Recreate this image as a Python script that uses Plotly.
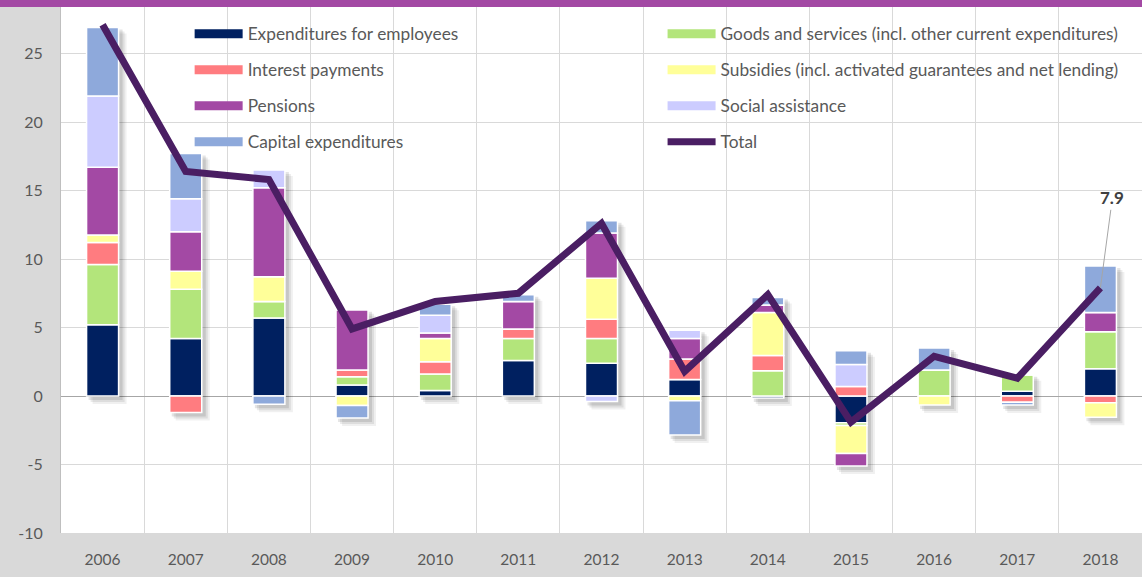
import plotly.graph_objects as go

years = ["2006", "2007", "2008", "2009", "2010", "2011", "2012",
         "2013", "2014", "2015", "2016", "2017", "2018"]

employees = [5.2, 4.2, 5.7, 0.8, 0.4, 2.6, 2.4, 1.2, -0.15, -1.95, 0.0, 0.35, 2.0]
goods     = [4.4, 3.6, 1.2, 0.6, 1.2, 1.6, 1.8, 0.0, 1.85, -0.2, 1.9, 1.2, 2.7]
interest  = [1.6, -1.2, 0.0, 0.5, 0.9, 0.7, 1.4, 1.5, 1.1, 0.7, 0.0, -0.45, -0.5]
subsidies = [0.55, 1.3, 1.8, -0.7, 1.7, 0.0, 3.0, -0.35, 3.15, -2.05, -0.65, 0.0, -1.05]
pensions  = [4.95, 2.9, 6.5, 4.4, 0.4, 2.0, 3.3, 1.5, 0.55, -0.9, 0.0, 0.0, 1.4]
social    = [5.2, 2.4, 1.3, 0.0, 1.3, 0.0, -0.4, 0.6, 0.0, 1.6, 0.0, 0.0, 0.0]
capital   = [5.0, 3.3, -0.6, -0.9, 0.8, 0.5, 0.9, -2.5, 0.55, 1.0, 1.6, -0.2, 3.4]
total     = [27.1, 16.4, 15.8, 4.9, 6.9, 7.5, 12.6, 1.8, 7.4, -1.9, 2.9, 1.3, 7.9]

ytick_vals = [-10, -5, 0, 5, 10, 15, 20, 25]
ytick_text = ["-10", "-5", "0", "5", "10", "15", "20", "25"]

series = [
    ("Expenditures for employees", employees, "#002060", "legend"),
    ("Goods and services (incl. other current expenditures)", goods, "#B3E57B", "legend2"),
    ("Interest payments", interest, "#FF7C80", "legend"),
    ("Subsidies (incl. activated guarantees and net lending)", subsidies, "#FFFF99", "legend2"),
    ("Pensions", pensions, "#A349A4", "legend"),
    ("Social assistance", social, "#CCCCFF", "legend2"),
    ("Capital expenditures", capital, "#8EA9DB", "legend"),
]

FONT = "Lato"
TXT = "#595959"
BAR_W = 0.385          # bar width in category units
Y_MIN, Y_MAX = -10, 28.4

fig = go.Figure()

# soft drop shadow behind each stacked column (extent derived from the data)
pos_sum = [sum(v for v in col if v > 0) for col in zip(*[s[1] for s in series])]
neg_sum = [sum(v for v in col if v < 0) for col in zip(*[s[1] for s in series])]
px_x = 1.0 / 83.1                    # one pixel in category units
px_y = (Y_MAX - Y_MIN) / 526.0       # one pixel in value units
for shift, alpha in [(7, 0.06), (5, 0.08), (3, 0.10)]:
    fig.add_trace(go.Bar(
        x=years, y=[p - n + 2 * px_y for p, n in zip(pos_sum, neg_sum)],
        base=[n - shift * px_y - px_y for n in neg_sum],
        width=BAR_W + 2 * px_x, offset=-BAR_W / 2 + (shift - 1) * px_x,
        marker=dict(color="rgba(0,0,0,%.2f)" % alpha, line=dict(width=0)),
        showlegend=False, hoverinfo="skip"))

for name, vals, col, lg in series:
    fig.add_trace(go.Bar(x=years, y=vals, name=name,
                         marker=dict(color=col, line=dict(color="white", width=1.5)),
                         showlegend=False))

# legend entries (drawn as thick lines like the reference)
legend_order = [s for s in series if s[3] == "legend"] + [s for s in series if s[3] == "legend2"]
for name, vals, col, lg in legend_order:
    fig.add_trace(go.Scatter(x=[years[0]], y=[None], mode="lines", name=name,
                             line=dict(color=col, width=9), legend=lg, legendgroup=name))

fig.add_trace(go.Scatter(x=years, y=total, mode="lines", name="Total",
                         line=dict(color="#4A1E63", width=7), legend="legend2", legendgroup="Total"))

# label for the last total value (x given as category index)
fig.add_annotation(x=len(years) - 1, y=total[-1], text="<b>%.1f</b>" % total[-1], showarrow=True,
                   arrowhead=0, arrowwidth=1, arrowcolor="#A6A6A6", ax=12, ay=-90,
                   font=dict(family=FONT, size=17, color="#404040"))

fig.add_shape(type="rect", xref="paper", yref="paper", x0=-0.1, x1=1.1, y0=1.0, y1=1.02,
              fillcolor="#A349A4", line=dict(width=0), layer="above")

legend_common = dict(bgcolor="rgba(0,0,0,0)", font=dict(family=FONT, size=17.3, color=TXT),
                     tracegroupgap=10.5, yanchor="top", xanchor="left", itemwidth=48)

fig.update_layout(
    width=1142, height=577,
    margin=dict(l=61, r=0, t=7, b=44),
    paper_bgcolor="#D9D9D9", plot_bgcolor="white",
    barmode="relative", bargap=1 - BAR_W,
    font=dict(family=FONT, color=TXT),
    legend=dict(x=0.119, y=0.983, **legend_common),
    legend2=dict(x=0.5565, y=0.983, **legend_common),
    xaxis=dict(type="category", categoryorder="array", categoryarray=years,
               range=[-0.5, len(years) - 0.5],
               tickson="boundaries", showgrid=True, gridcolor="#D9D9D9",
               ticks="", tickfont=dict(family=FONT, size=15.5, color=TXT), ticklabelstandoff=15),
    yaxis=dict(range=[Y_MIN, Y_MAX], tickvals=ytick_vals, ticktext=ytick_text,
               showgrid=True, gridcolor="#D9D9D9",
               zeroline=True, zerolinecolor="#A6A6A6", zerolinewidth=1,
               showline=True, linecolor="#BFBFBF", ticks="",
               tickfont=dict(family=FONT, size=16, color=TXT), ticklabelstandoff=14),
)

fig.write_html("out.html", config={"displayModeBar": False},
               post_script="document.body.style.margin='0';document.body.style.overflow='hidden';")
